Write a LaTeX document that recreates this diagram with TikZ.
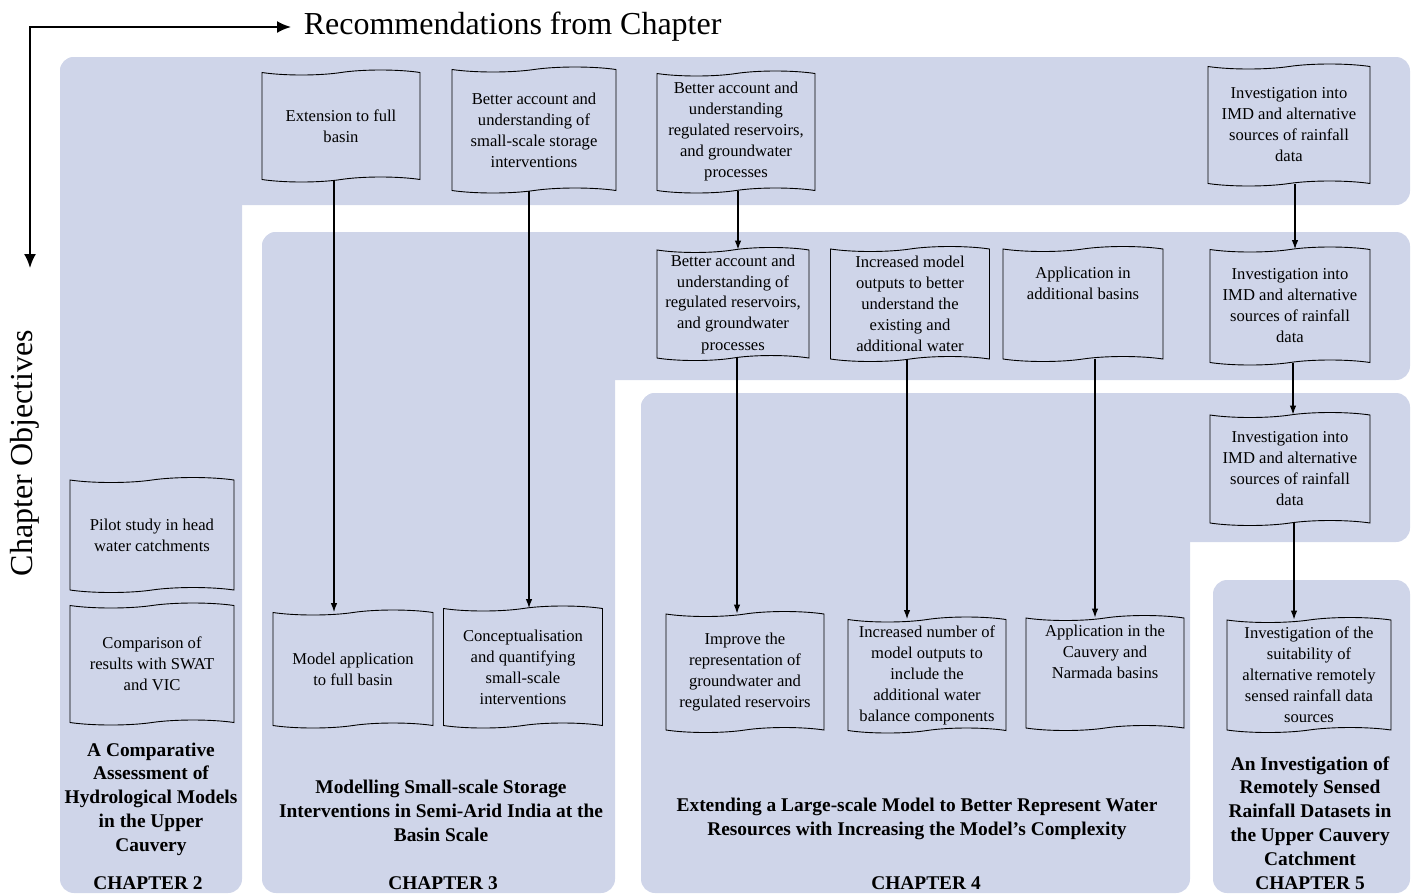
\documentclass[tikz,border=0pt]{standalone}
\usepackage{fontspec}
\setmainfont{Liberation Serif}
\usetikzlibrary{shapes.symbols,arrows.meta}
\definecolor{bandblue}{RGB}{207,213,233}

\tikzset{every picture/.style={line width=0.75pt}}

\begin{document}
\begin{tikzpicture}[x=0.5pt,y=0.5pt,yscale=-1,xscale=1,
    band/.style={fill=bandblue,draw=none,rounded corners=7pt},
    obj/.style={tape,draw,line width=0.45pt,tape bend height=2.5pt,align=center,inner sep=1pt,font=\fontsize{8.3}{10.5}\selectfont},
    ttl/.style={align=center,inner sep=0pt,font=\bfseries\fontsize{9.7}{11.9}\selectfont},
    arr/.style={-{Latex[length=4.5pt,width=3.2pt]},line width=0.65pt}]
    \useasboundingbox (0,0) rectangle (1418,895);

    %Shape: band of chapter 2
    \fill[band] (60,57) rectangle (1410,205);
    \fill[band] (60,57) rectangle (242,893);
    %Shape: band of chapter 3
    \fill[band] (262,232) rectangle (1410,380);
    \fill[band] (262,232) rectangle (615,893);
    %Shape: band of chapter 4
    \fill[band] (641,393) rectangle (1410,542);
    \fill[band] (641,393) rectangle (1190,893);
    %Shape: band of chapter 5
    \fill[band] (1213,580) rectangle (1410,893);

    % Text Node
    \node (rec) [anchor=west,inner sep=6pt,font=\fontsize{16}{19}\selectfont] at (291,27) {Recommendations from Chapter};
    % Text Node
    \node (objv) [rotate=90,inner sep=0pt,font=\fontsize{16}{19}\selectfont] at (25,453) {Chapter Objectives};
    \coordinate (objtip) at (30,268);
    \draw [{Latex[length=7pt,width=6pt]}-{Latex[length=7pt,width=6pt]},line width=1pt] (objtip) |- (rec.west);

    % recommendations from chapter 2
    \node (r2a) [obj,minimum width=79pt,minimum height=56pt] at (341,126) {Extension to full\\basin};
    \node (r2b) [obj,minimum width=82pt,minimum height=63pt] at (534,130) {Better account and\\understanding of\\small-scale storage\\interventions};
    \node (r2c) [obj,minimum width=79pt,minimum height=61pt] at (736,132) {Better account and\\understanding\\regulated reservoirs,\\and groundwater\\processes};
    \node (r2d) [obj,minimum width=81pt,minimum height=61pt] at (1289,125) {Investigation into\\IMD and alternative\\sources of rainfall\\data};

    % recommendations from chapter 3
    \node (r3a) [obj,minimum width=76pt,minimum height=56pt] at (733,304) {Better account and\\understanding of\\regulated reservoirs,\\and groundwater\\processes};
    \node (r3b) [obj,minimum width=79.5pt,minimum height=57.5pt] at (910,304) {Increased model\\outputs to better\\understand the\\existing and\\additional water};
    \node (r3c) [obj,minimum width=80pt,minimum height=57.5pt] at (1083,304) {Application in\\additional basins\\\mbox{}\\\mbox{}};
    \node (r3d) [obj,minimum width=80pt,minimum height=59pt] at (1290,306) {Investigation into\\IMD and alternative\\sources of rainfall\\data};

    % recommendations from chapter 4
    \node (r4a) [obj,minimum width=80pt,minimum height=56.5pt] at (1290,469) {Investigation into\\IMD and alternative\\sources of rainfall\\data};

    % chapter objectives
    \node (o2a) [obj,minimum width=82pt,minimum height=57.5pt] at (152,535) {Pilot study in head\\water catchments};
    \node (o2b) [obj,minimum width=82pt,minimum height=61pt] at (152,664) {Comparison of\\results with SWAT\\and VIC};
    \node (o3a) [obj,minimum width=80pt,minimum height=59pt] at (353,669) {Model application\\to full basin};
    \node (o3b) [obj,minimum width=79.5pt,minimum height=61pt] at (523,667) {Conceptualisation\\and quantifying\\small-scale\\interventions};
    \node (o4a) [obj,minimum width=79pt,minimum height=60.5pt] at (745,672) {Improve the\\representation of\\groundwater and\\regulated reservoirs};
    \node (o4b) [obj,minimum width=79pt,minimum height=58pt] at (927,675) {Increased number of\\model outputs to\\include the\\additional water\\balance components};
    \node (o4c) [obj,minimum width=79pt,minimum height=57.5pt] at (1105,673) {Application in the\\Cauvery and\\Narmada basins\\\mbox{}\\\mbox{}};
    \node (o5a) [obj,minimum width=82pt,minimum height=57.5pt] at (1309,675) {Investigation of the\\suitability of\\alternative remotely\\sensed rainfall data\\sources};

    % chapter titles
    \node (t2) [ttl] at (151,799) {A Comparative\\Assessment of\\Hydrological Models\\in the Upper\\Cauvery};
    \node (k2) [ttl] at (148,883) {CHAPTER 2};
    \node (t3) [ttl] at (441,811) {Modelling Small-scale Storage\\Interventions in Semi-Arid India at the\\Basin Scale};
    \node (k3) [ttl] at (443,883) {CHAPTER 3};
    \node (t4) [ttl] at (917,819) {Extending a Large-scale Model to Better Represent Water\\Resources with Increasing the Model’s Complexity};
    \node (k4) [ttl] at (926,883) {CHAPTER 4};
    \node (t5) [ttl] at (1310,811) {An Investigation of\\Remotely Sensed\\Rainfall Datasets in\\the Upper Cauvery\\Catchment};
    \node (k5) [ttl] at (1310,883) {CHAPTER 5};

    % connectors
    \draw [arr] ([xshift=-3.5pt]r2a.south) -- ([xshift=-3.5pt]r2a.south |- o3a.north);
    \draw [arr] ([xshift=-2.5pt]r2b.south) -- ([xshift=-2.5pt]r2b.south |- o3b.north);
    \draw [arr] ([xshift=1pt]r2c.south) -- ([xshift=1pt]r2c.south |- r3a.north);
    \draw [arr] ([xshift=3pt]r2d.south) -- ([xshift=3pt]r2d.south |- r3d.north);
    \draw [arr] ([xshift=2pt]r3a.south) -- ([xshift=2pt]r3a.south |- o4a.north);
    \draw [arr] ([xshift=-1.5pt]r3b.south) -- ([xshift=-1.5pt]r3b.south |- o4b.north);
    \draw [arr] ([xshift=6pt]r3c.south) -- ([xshift=6pt]r3c.south |- o4c.north);
    \draw [arr] ([xshift=1.5pt]r3d.south) -- ([xshift=1.5pt]r3d.south |- r4a.north);
    \draw [arr] ([xshift=2pt]r4a.south) -- ([xshift=2pt]r4a.south |- o5a.north);

\end{tikzpicture}
\end{document}
